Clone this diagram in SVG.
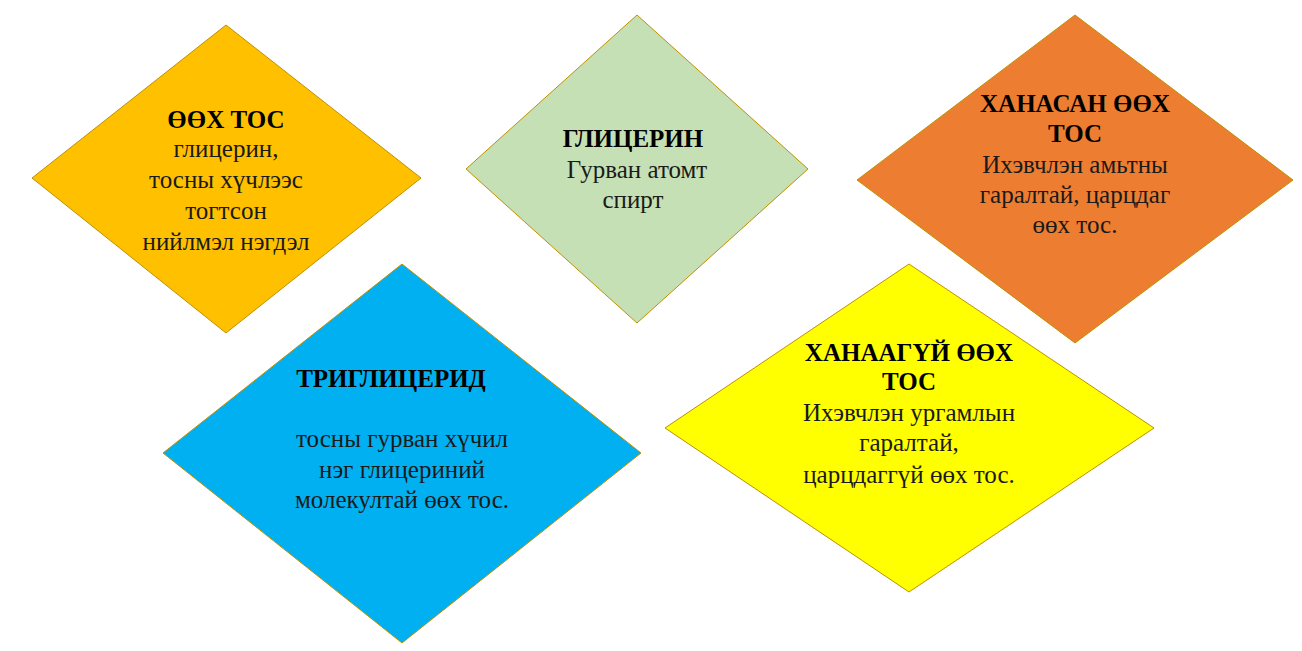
<svg xmlns="http://www.w3.org/2000/svg" width="1302" height="651" viewBox="0 0 1302 651">
<style>
.d{stroke:#BF9000;stroke-width:1}
text{font-family:"Liberation Serif","Times New Roman",serif;font-size:25px;text-anchor:middle;fill:#1a1a1a}
.t{font-weight:bold;fill:#000}
</style>
<rect width="1302" height="651" fill="#fff"/>
<g id="connectors"></g>
<g id="node-ooh-tos">
<polygon class="d" fill="#FFC000" points="32,178 226,25 421,178 226,333"/>
<text class="t" x="226" y="128">ӨӨХ ТОС</text>
<text x="226" y="157">глицерин,</text>
<text x="226" y="188">тосны хүчлээс</text>
<text x="226" y="219">тогтсон</text>
<text x="226" y="250">нийлмэл нэгдэл</text>
</g>
<g id="node-glitserin">
<polygon class="d" fill="#C5E0B4" points="466,169 637,15 808,169 637,323"/>
<text class="t" x="633" y="147">ГЛИЦЕРИН</text>
<text x="637" y="178">Гурван атомт</text>
<text x="633" y="208">спирт</text>
</g>
<g id="node-hanasan">
<polygon class="d" fill="#ED7D31" points="857,180 1075,15 1293,180 1075,343"/>
<text class="t" x="1075" y="112">ХАНАСАН ӨӨХ</text>
<text class="t" x="1075" y="142">ТОС</text>
<text x="1075" y="173">Ихэвчлэн амьтны</text>
<text x="1075" y="203">гаралтай, царцдаг</text>
<text x="1075" y="233">өөх тос.</text>
</g>
<g id="node-triglitserid">
<polygon class="d" fill="#00B0F0" points="163,453 402,264 641,453 402,643"/>
<text class="t" x="391" y="387">ТРИГЛИЦЕРИД</text>
<text x="402" y="447">тосны гурван хүчил</text>
<text x="402" y="478">нэг глицериний</text>
<text x="402" y="508">молекултай өөх тос.</text>
</g>
<g id="node-hanaagui">
<polygon class="d" fill="#FFFF00" points="665,428 909,264 1154,428 909,592"/>
<text class="t" x="909" y="361">ХАНААГҮЙ ӨӨХ</text>
<text class="t" x="909" y="390">ТОС</text>
<text x="909" y="421">Ихэвчлэн ургамлын</text>
<text x="909" y="451">гаралтай,</text>
<text x="909" y="483">царцдаггүй өөх тос.</text>
</g>
</svg>
